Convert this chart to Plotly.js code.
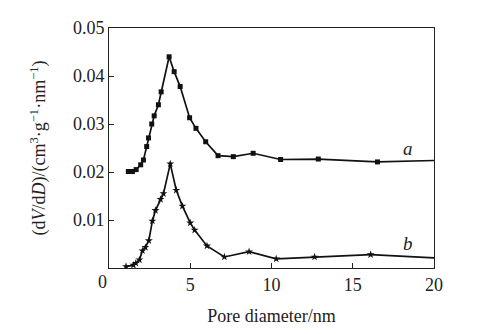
<!DOCTYPE html>
<html>
<head>
<meta charset="utf-8">
<script src="https://cdn.plot.ly/plotly-3.0.1.min.js"></script>
<style>html,body{margin:0;padding:0;background:#fff;}#chart{width:484px;height:334px;}</style>
</head>
<body>
<div id="chart"></div>
<script>
// Series a (squares)
const aX = [1.19, 1.44, 1.67, 1.95, 2.12, 2.32, 2.43, 2.63, 2.78, 3.04, 3.21, 3.70, 4.01, 4.38, 4.96, 5.35, 5.95, 6.71, 7.65, 8.87, 10.56, 12.88, 16.52];
const aY = [0.0201, 0.0201, 0.0205, 0.0215, 0.0225, 0.0253, 0.0271, 0.0300, 0.0317, 0.0340, 0.0367, 0.0440, 0.0409, 0.0378, 0.0313, 0.0291, 0.0263, 0.0234, 0.0232, 0.0239, 0.0226, 0.0227, 0.0221];
const aEndX = [16.52, 20];
const aEndY = [0.0221, 0.0224];
// Series b (stars)
const bX = [1.05, 1.50, 1.65, 1.87, 2.06, 2.24, 2.45, 2.67, 2.86, 3.17, 3.35, 3.77, 4.14, 4.52, 5.00, 5.27, 6.03, 7.10, 8.62, 10.29, 12.65, 16.10];
const bY = [0.0003, 0.0006, 0.0010, 0.0017, 0.0036, 0.0043, 0.0057, 0.0098, 0.0120, 0.0143, 0.0155, 0.0217, 0.0162, 0.0129, 0.0094, 0.0079, 0.0046, 0.0023, 0.0034, 0.0019, 0.0023, 0.0028];
const bEndX = [16.10, 20];
const bEndY = [0.0028, 0.0021];

const xTicks = [5, 10, 15, 20];
const yTicks = [0.01, 0.02, 0.03, 0.04, 0.05];
const yTickText = ['0.01', '0.02', '0.03', '0.04', '0.05'];

const font = {family: 'Liberation Serif, Times New Roman, serif', size: 18, color: '#222'};

const traces = [
  {x: aX, y: aY, mode: 'lines+markers', line: {color: '#111', width: 1.7},
   marker: {symbol: 'square', size: 5, color: '#111'}, showlegend: false, hoverinfo: 'skip'},
  {x: aEndX, y: aEndY, mode: 'lines', line: {color: '#111', width: 1.7}, showlegend: false, hoverinfo: 'skip'},
  {x: bX, y: bY, mode: 'lines+markers', line: {color: '#111', width: 1.7},
   marker: {symbol: 'star', size: 6, color: '#111'}, showlegend: false, hoverinfo: 'skip'},
  {x: bEndX, y: bEndY, mode: 'lines', line: {color: '#111', width: 1.7}, showlegend: false, hoverinfo: 'skip'}
];

const layout = {
  width: 484, height: 334,
  margin: {l: 109, r: 50, t: 28, b: 66},
  paper_bgcolor: '#fff', plot_bgcolor: '#fff',
  font: font,
  xaxis: {
    range: [0, 20], tickvals: xTicks, ticktext: xTicks.map(String),
    ticks: 'inside', ticklen: 5, tickcolor: '#222', tickwidth: 1,
    showline: true, linecolor: '#222', linewidth: 1, mirror: true,
    showgrid: false, zeroline: false,
    title: {text: 'Pore diameter/nm', font: font, standoff: 15}
  },
  yaxis: {
    range: [0, 0.05], tickvals: yTicks, ticktext: yTickText,
    ticks: 'inside', ticklen: 5, tickcolor: '#222', tickwidth: 1,
    showline: true, linecolor: '#222', linewidth: 1, mirror: true,
    showgrid: false, zeroline: false,
    title: {text: '(d<i>V</i>/d<i>D</i>)/(cm<sup>3</sup>·g<sup>−1</sup>·nm<sup>−1</sup>)', font: font, standoff: 22}
  },
  annotations: [
    {text: '0', xref: 'paper', yref: 'paper', x: -0.02, y: -0.01, xanchor: 'center', yanchor: 'top', showarrow: false, font: font},
    {text: '<i>a</i>', xref: 'x', yref: 'y', x: 18.4, y: 0.0249, showarrow: false, font: {family: font.family, size: 19, color: '#222'}},
    {text: '<i>b</i>', xref: 'x', yref: 'y', x: 18.4, y: 0.0052, showarrow: false, font: {family: font.family, size: 19, color: '#222'}}
  ]
};

Plotly.newPlot('chart', traces, layout, {displayModeBar: false, staticPlot: true});
</script>
</body>
</html>
